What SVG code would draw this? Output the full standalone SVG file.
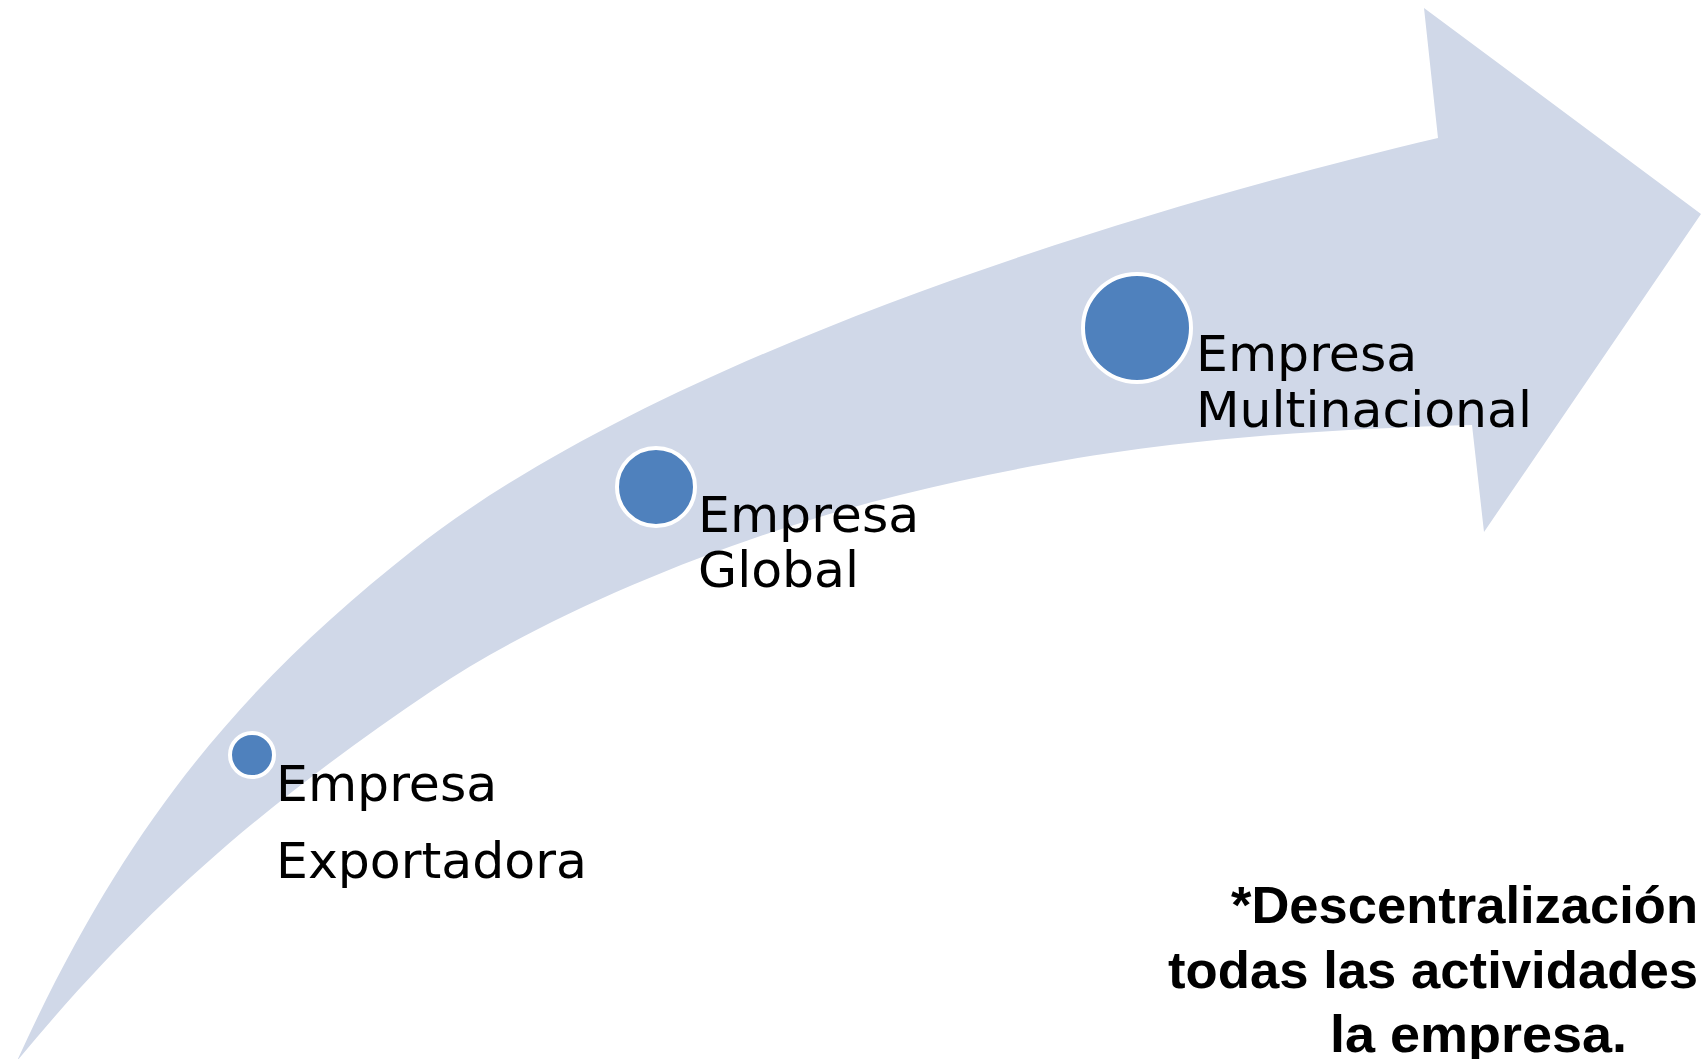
<svg xmlns="http://www.w3.org/2000/svg" width="1702" height="1059" viewBox="0 0 1702 1059">
<style>
.arrow{fill:#D0D8E8;stroke:none}
.dot{fill:#4F81BD;stroke:#FFFFFF;stroke-width:4}
.lbl{font-family:"DejaVu Sans","Verdana",sans-serif;font-size:50.5px;fill:#000000}
.note{font-family:"Liberation Sans",Arial,sans-serif;font-weight:bold;font-size:52px;fill:#000000}
</style>
<rect x="0" y="0" width="1702" height="1059" fill="#FFFFFF"/>
<g id="connectors">
<path class="arrow" d="M 17 1061 C 130.9 809.75, 256 674, 413 550 C 648.5 364, 1097.4 218.5, 1438 138 L 1424 8 L 1701 214 L 1484 532 L 1472 425 C 1230 432, 1084 450, 900 495 C 754.5 530, 557.5 606, 433 690 C 267 802, 145 906, 17 1061 Z"/>
</g>
<g id="node-exportadora">
<circle class="dot" cx="252" cy="755" r="22"/>
<text class="lbl" x="276" y="801">Empresa</text>
<text class="lbl" x="276" y="878">Exportadora</text>
</g>
<g id="node-global">
<circle class="dot" cx="656" cy="487" r="39"/>
<text class="lbl" x="698" y="532">Empresa</text>
<text class="lbl" x="698" y="587">Global</text>
</g>
<g id="node-multinacional">
<circle class="dot" cx="1137" cy="328" r="54"/>
<text class="lbl" x="1196" y="371">Empresa</text>
<text class="lbl" x="1196" y="427">Multinacional</text>
</g>
<g id="note">
<text class="note" x="1231" y="923" textLength="467" lengthAdjust="spacingAndGlyphs">*Descentralización</text>
<text class="note" x="1168" y="988" textLength="530" lengthAdjust="spacingAndGlyphs">todas las actividades</text>
<text class="note" x="1330" y="1052" textLength="297" lengthAdjust="spacingAndGlyphs">la empresa.</text>
</g>
</svg>
